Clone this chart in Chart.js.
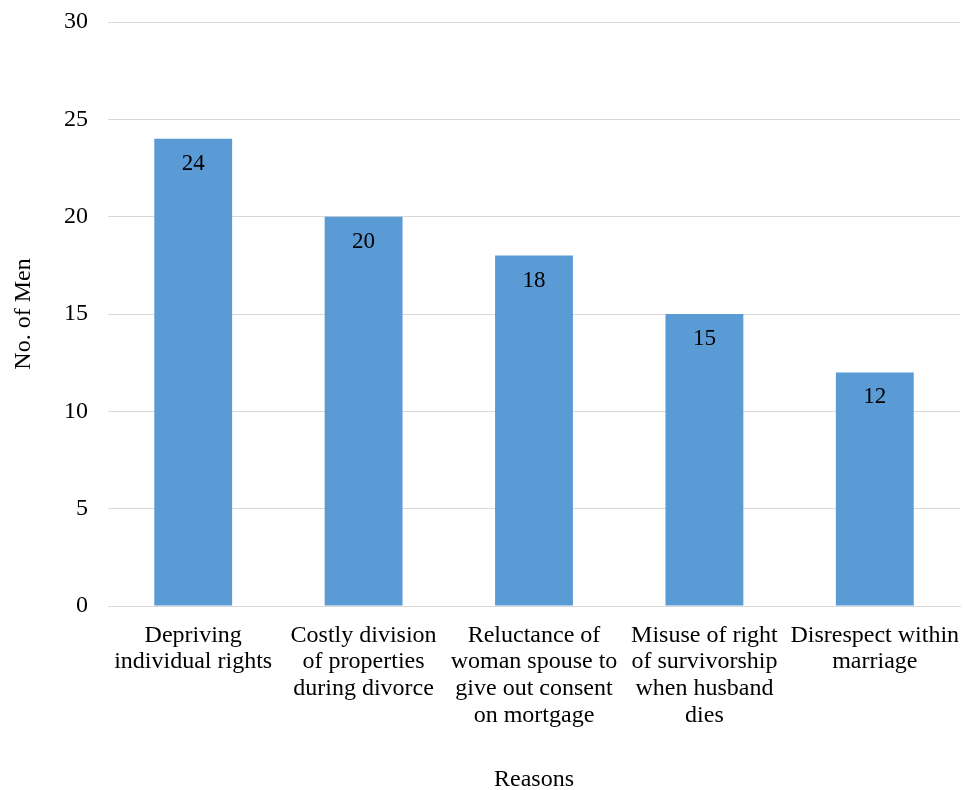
<!DOCTYPE html>
<html><head><meta charset="utf-8">
<script src="https://cdn.jsdelivr.net/npm/chart.js@4"></script>
<style>html,body{margin:0;padding:0;background:#fff}canvas{display:block}</style>
</head><body>
<canvas id="c" width="965" height="790"></canvas>
<script>
const categories = [
  ["Depriving", "individual rights"],
  ["Costly division", "of properties", "during divorce"],
  ["Reluctance of", "woman spouse to", "give out consent", "on mortgage"],
  ["Misuse of right", "of survivorship", "when husband", "dies"],
  ["Disrespect within", "marriage"]
];
const values = [24, 20, 18, 15, 12];
const yTicks = [0, 5, 10, 15, 20, 25, 30];
const xTitle = "Reasons";
const yTitle = "No. of Men";

const FONT = "'Liberation Serif', 'Times New Roman', serif";

const labelPlugin = {
  id: 'barLabels',
  afterDatasetsDraw(chart) {
    const ctx = chart.ctx;
    const meta = chart.getDatasetMeta(0);
    ctx.save();
    ctx.font = "23px " + FONT;
    ctx.fillStyle = "#000";
    ctx.textAlign = "center";
    ctx.textBaseline = "middle";
    meta.data.forEach((bar, i) => {
      ctx.fillText(String(values[i]), bar.x, bar.y + 25);
    });
    ctx.restore();
  }
};

new Chart(document.getElementById('c'), {
  type: 'bar',
  data: {
    labels: categories,
    datasets: [{
      data: values,
      backgroundColor: '#5B9BD5',
      borderWidth: 0,
      categoryPercentage: 1.0,
      barPercentage: 0.457
    }]
  },
  options: {
    responsive: false,
    animation: false,
    devicePixelRatio: 1,
    layout: { padding: { left: 0, right: 5, top: 22, bottom: 0 } },
    plugins: { legend: { display: false }, tooltip: { enabled: false } },
    scales: {
      x: {
        afterFit(axis) { axis.height = 184; axis.paddingLeft = 0; axis.paddingRight = 0; },
        grid: { display: false, drawTicks: false },
        border: { display: true, color: '#d9d9d9', width: 1 },
        ticks: { color: '#000', font: { family: FONT, size: 24, lineHeight: 1.11 }, maxRotation: 0, minRotation: 0, autoSkip: false, padding: 16 },
        title: { display: true, text: xTitle, color: '#000', font: { family: FONT, size: 24, lineHeight: 1.0 }, padding: { top: 0, bottom: -2 } }
      },
      y: {
        min: 0, max: 30,
        afterFit(axis) { axis.width = 108; axis.paddingTop = 0; axis.paddingBottom = 0; },
        afterBuildTicks(axis) { axis.ticks = yTicks.map(v => ({ value: v })); },
        grid: { color: '#d9d9d9', lineWidth: 1, drawTicks: false },
        border: { display: false },
        ticks: { color: '#000', font: { family: FONT, size: 24 }, padding: 20 },
        title: { display: true, text: yTitle, color: '#000', font: { family: FONT, size: 24, lineHeight: 1.0 }, padding: { top: 12, bottom: 0 } }
      }
    }
  },
  plugins: [labelPlugin]
});
</script>
</body></html>
